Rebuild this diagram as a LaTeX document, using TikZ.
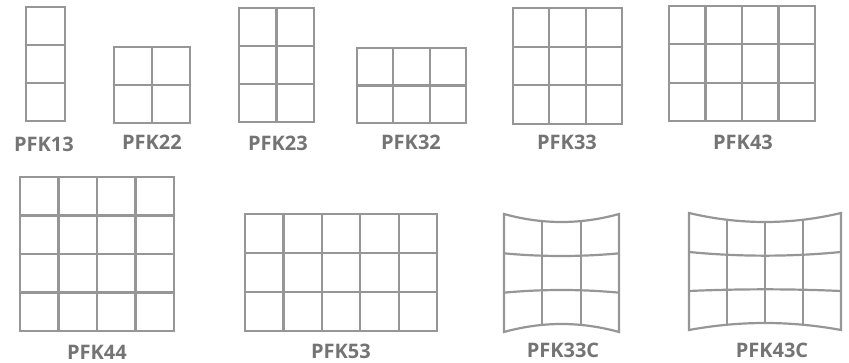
\documentclass[tikz,border=0pt]{standalone}
\usepackage{fontspec}
\setmainfont{Open Sans}
\definecolor{gline}{HTML}{969696}
\definecolor{gtext}{HTML}{747474}
\tikzset{
  gl/.style={draw=gline, line width=2.2pt},
  lab/.style={text=gtext, font=\bfseries\fontsize{20}{20}\selectfont, anchor=base, inner sep=0pt}
}
% straight grid: x0 y0 x1 y1 cols rows
\newcommand\sgrid[6]{%
  \draw[gl] (#1,#2) rectangle (#3,#4);
  \foreach \i in {1,...,#5}{\ifnum\i<#5 \draw[gl] ({#1+\i*(#3-#1)/#5},#2) -- ({#1+\i*(#3-#1)/#5},#4);\fi}
  \foreach \j in {1,...,#6}{\ifnum\j<#6 \draw[gl] (#1,{#2+\j*(#4-#2)/#6}) -- (#3,{#2+\j*(#4-#2)/#6});\fi}
}
% curved grid: x0 x1 ytop ybot sagtop sagbot cols rows
\newcommand\cgrid[8]{%
  \pgfmathsetmacro\xc{(#1+#2)/2}
  \pgfmathsetmacro\hw{(#2-#1)/2}
  \draw[gl, line join=miter] plot[domain=#1:#2, samples=30] (\x,{#3+(1-((\x-\xc)/\hw)^2)*#5})
     -- plot[domain=#2:#1, samples=30] (\x,{#4-(1-((\x-\xc)/\hw)^2)*#6}) -- cycle;
  \foreach \j in {1,...,#8}{\ifnum\j<#8
    \draw[gl] plot[domain=#1:#2, samples=30] (\x,{#3+\j/#8*(#4-#3)+(1-((\x-\xc)/\hw)^2)*(#5*(1-\j/#8)-#6*\j/#8)});\fi}
  \foreach \i in {1,...,#7}{\ifnum\i<#7
    \pgfmathsetmacro\cx{#1+\i*(#2-#1)/#7}
    \pgfmathsetmacro\tt{(1-((\cx-\xc)/\hw)^2)}
    \draw[gl] (\cx,{#3+\tt*#5}) -- (\cx,{#4-\tt*#6});\fi}
}
\begin{document}
\begin{tikzpicture}[x=1pt,y=-1pt]
\useasboundingbox (0,0) rectangle (849,363);
% row 1
\sgrid{26}{7}{65}{121}{1}{3}
\node[lab] (l13) at (44,152) {PFK13};
\sgrid{114}{47}{190}{123}{2}{2}
\node[lab] (l22) at (152,150) {PFK22};
\sgrid{239}{8}{314}{122}{2}{3}
\node[lab] (l23) at (278,151) {PFK23};
\sgrid{357}{48}{466}{123}{3}{2}
\node[lab] (l32) at (411,150) {PFK32};
\sgrid{513}{8}{622}{124}{3}{3}
\node[lab] (l33) at (567,150) {PFK33};
\sgrid{669}{6}{815}{121}{4}{3}
\node[lab] (l43) at (743,150) {PFK43};
% row 2
\sgrid{20}{177}{174}{331}{4}{4}
\node[lab] (l44) at (97,359.5) {PFK44};
\sgrid{245}{214}{437}{331}{5}{3}
\node[lab] (l53) at (341,359) {PFK53};
\cgrid{504}{619}{214}{332}{8}{8}{3}{3}
\node[lab] (l33c) at (563,358) {PFK33C};
\cgrid{689}{841}{213}{330}{9}{7}{4}{3}
\node[lab] (l43c) at (772,358) {PFK43C};
\end{tikzpicture}
\end{document}
